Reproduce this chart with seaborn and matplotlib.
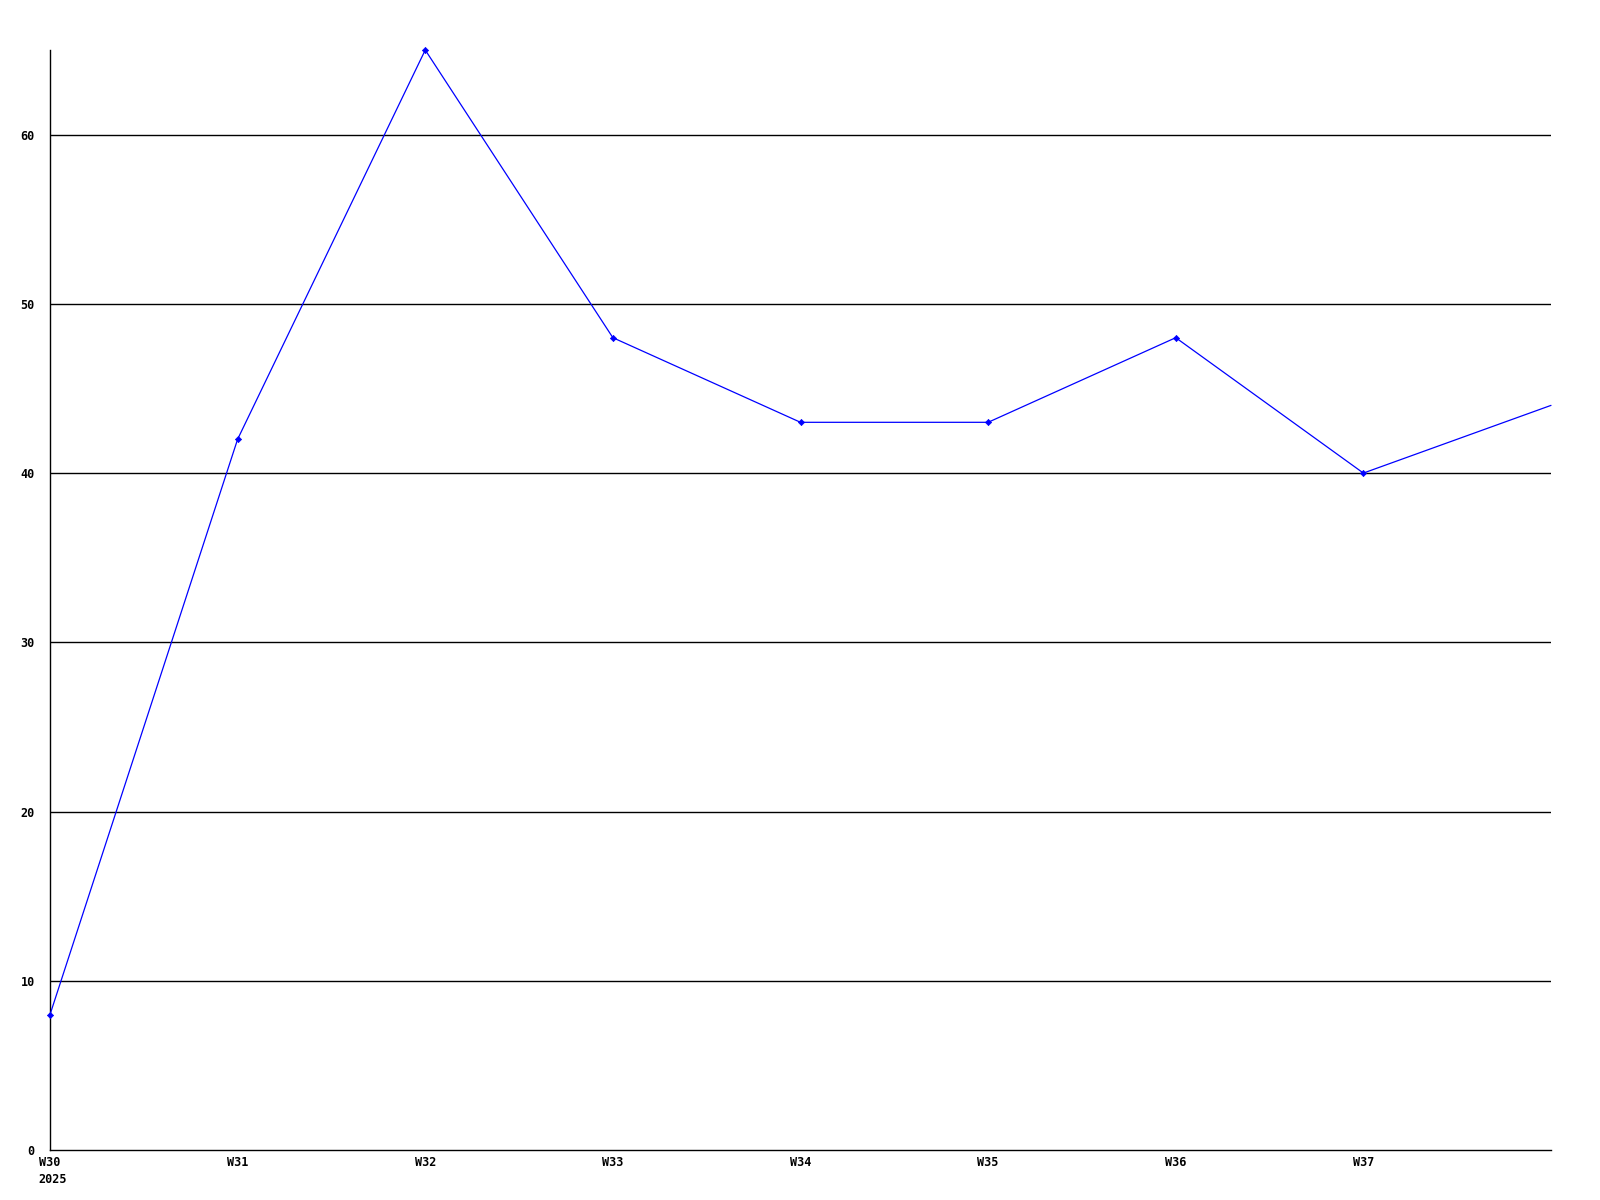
import matplotlib
matplotlib.use("Agg")
import matplotlib.pyplot as plt
import matplotlib.transforms as mtransforms
import seaborn as sns
import pandas as pd

weeks = ["W30", "W31", "W32", "W33", "W34", "W35", "W36", "W37", "W38"]
values = [8, 42, 65, 48, 43, 43, 48, 40, 44]
tick_labels = ["W30\n2025", "W31", "W32", "W33", "W34", "W35", "W36", "W37"]
y_ticks = [0, 10, 20, 30, 40, 50, 60]

sns.set_theme(style="white")
plt.rcParams["font.family"] = ["DejaVu Sans Mono"]

df = pd.DataFrame({"idx": range(len(weeks)), "week": weeks, "value": values})

fig = plt.figure(figsize=(16, 12), dpi=100)
ax = fig.add_axes([50/1600, 1 - 1150/1200, (1551-50)/1600, (1150-50)/1200])

for y in y_ticks[1:]:
    ax.axhline(y, color="black", linewidth=1.0, zorder=1)

sns.lineplot(data=df, x="idx", y="value", color="#0000ff", linewidth=0.9, ax=ax, zorder=3, clip_on=False)
sns.scatterplot(data=df.iloc[:-1], x="idx", y="value", color="#0000ff", marker="D", s=10,
                edgecolor="#0000ff", linewidth=0.5, ax=ax, zorder=4, clip_on=False)

ax.set_xlim(0, len(weeks) - 1)
ax.set_ylim(0, 65)
ax.set_xticks(range(len(tick_labels)))
ax.set_xticklabels(tick_labels, fontsize=8.5, fontweight="bold", multialignment="left", linespacing=1.45)
ax.set_yticks(y_ticks)
ax.set_yticklabels([str(v) for v in y_ticks], fontsize=8.5, fontweight="bold")
ax.tick_params(axis="both", length=0, colors="black")
ax.tick_params(axis="y", pad=11)
ax.tick_params(axis="x", pad=4)
first = ax.get_xticklabels()[0]
first.set_transform(first.get_transform() + mtransforms.ScaledTranslation(3/100, 0, fig.dpi_scale_trans))
ax.set_xlabel("")
ax.set_ylabel("")
for s in ["top", "right"]:
    ax.spines[s].set_visible(False)
for s in ["left", "bottom"]:
    ax.spines[s].set_color("black")
    ax.spines[s].set_linewidth(1.0)
ax.grid(False)

fig.savefig("out.png", dpi=100, facecolor="white")
